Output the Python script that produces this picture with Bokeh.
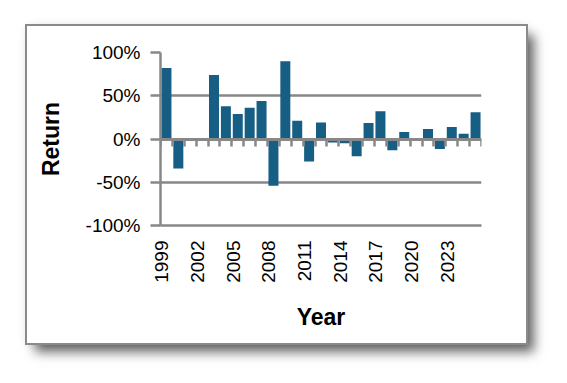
from bokeh.plotting import figure
from bokeh.models import (ColumnDataSource, Range1d, FixedTicker, LinearAxis,
                          NumeralTickFormatter)
from bokeh.embed import file_html
from bokeh.resources import INLINE
import math

# ---- data ----
years = list(range(1999, 2026))
returns = [0.82, -0.34, float("nan"), float("nan"), 0.74, 0.38, 0.29, 0.36, 0.44,
           -0.54, 0.90, 0.21, -0.26, 0.19, -0.04, -0.05, -0.20, 0.185, 0.32,
           -0.13, 0.08, float("nan"), 0.115, -0.115, 0.14, 0.06, 0.31]
label_years = [1999, 2002, 2005, 2008, 2011, 2014, 2017, 2020, 2023]
y_ticks = [-1.0, -0.5, 0.0, 0.5, 1.0]

BAR = "#165E83"
GRAY = "#888888"
FONT = "Liberation Sans"

src = ColumnDataSource(dict(year=years, ret=returns))

p = figure(width=499, height=317, output_backend="svg", toolbar_location=None,
           x_range=Range1d(years[0] - 0.5, years[-1] + 0.5),
           y_range=Range1d(y_ticks[0], y_ticks[-1]),
           min_border_left=133, min_border_right=45,
           min_border_top=26, min_border_bottom=118,
           background_fill_color="white", border_fill_color="white",
           outline_line_color=None)
p.margin = (26, 0, 0, 27)
p.styles = {"box-shadow": "0 0 0 2px #8a8a8a, 8px 9px 11px rgba(0,0,0,0.6), 0 0 9px rgba(0,0,0,0.12)"}

p.vbar(x="year", top="ret", bottom=0, width=0.84, source=src,
       fill_color=BAR, line_color=None)

# y axis
p.yaxis.ticker = FixedTicker(ticks=y_ticks)
p.yaxis.formatter = NumeralTickFormatter(format="0%")
p.yaxis.axis_line_color = GRAY
p.yaxis.axis_line_width = 2.5
p.yaxis.major_tick_line_color = GRAY
p.yaxis.major_tick_line_width = 2.5
p.yaxis.major_tick_out = 10
p.yaxis.major_tick_in = 0
p.yaxis.minor_tick_line_color = None
p.yaxis.major_label_standoff = 10
p.yaxis.major_label_text_font = FONT
p.yaxis.major_label_text_font_size = "19px"
p.yaxis.major_label_text_color = "#000000"
p.yaxis.axis_label = "Return"
p.yaxis.axis_label_text_font = FONT
p.yaxis.axis_label_text_font_size = "23px"
p.yaxis.axis_label_text_font_style = "bold"
p.yaxis.axis_label_text_color = "#000000"
p.yaxis.axis_label_standoff = 19

# bottom axis (labels)
shift = 0.4
p.xaxis.ticker = FixedTicker(ticks=[y - shift for y in label_years])
p.xaxis.major_label_overrides = {y - shift: str(y) for y in label_years}
p.xaxis.major_label_orientation = math.pi / 2
p.xaxis.axis_line_color = GRAY
p.xaxis.axis_line_width = 2.5
p.xaxis.major_tick_line_color = None
p.xaxis.major_tick_out = 0
p.xaxis.major_tick_in = 0
p.xaxis.minor_tick_line_color = None
p.xaxis.major_label_standoff = 15
p.xaxis.major_label_text_font = FONT
p.xaxis.major_label_text_font_size = "19px"
p.xaxis.major_label_text_color = "#000000"
p.xaxis.axis_label = "Year"
p.xaxis.axis_label_text_font = FONT
p.xaxis.axis_label_text_font_size = "23px"
p.xaxis.axis_label_text_font_style = "bold"
p.xaxis.axis_label_text_color = "#000000"
p.xaxis.axis_label_standoff = 18

# zero axis with category-boundary ticks
bounds = [y - 0.5 for y in years] + [years[-1] + 0.5]
zero_axis = LinearAxis(ticker=FixedTicker(ticks=bounds), fixed_location=0,
                       axis_line_color=GRAY, axis_line_width=3,
                       major_tick_line_color=GRAY, major_tick_line_width=2.5,
                       major_tick_out=7, major_tick_in=0,
                       minor_tick_line_color=None,
                       major_label_text_font_size="0px",
                       major_label_text_alpha=0)
p.add_layout(zero_axis, "below")

p.xgrid.grid_line_color = None
p.ygrid.ticker = FixedTicker(ticks=y_ticks)
p.ygrid.grid_line_color = GRAY
p.ygrid.grid_line_width = 2.5

open("out.html", "w").write(file_html(p, INLINE))
